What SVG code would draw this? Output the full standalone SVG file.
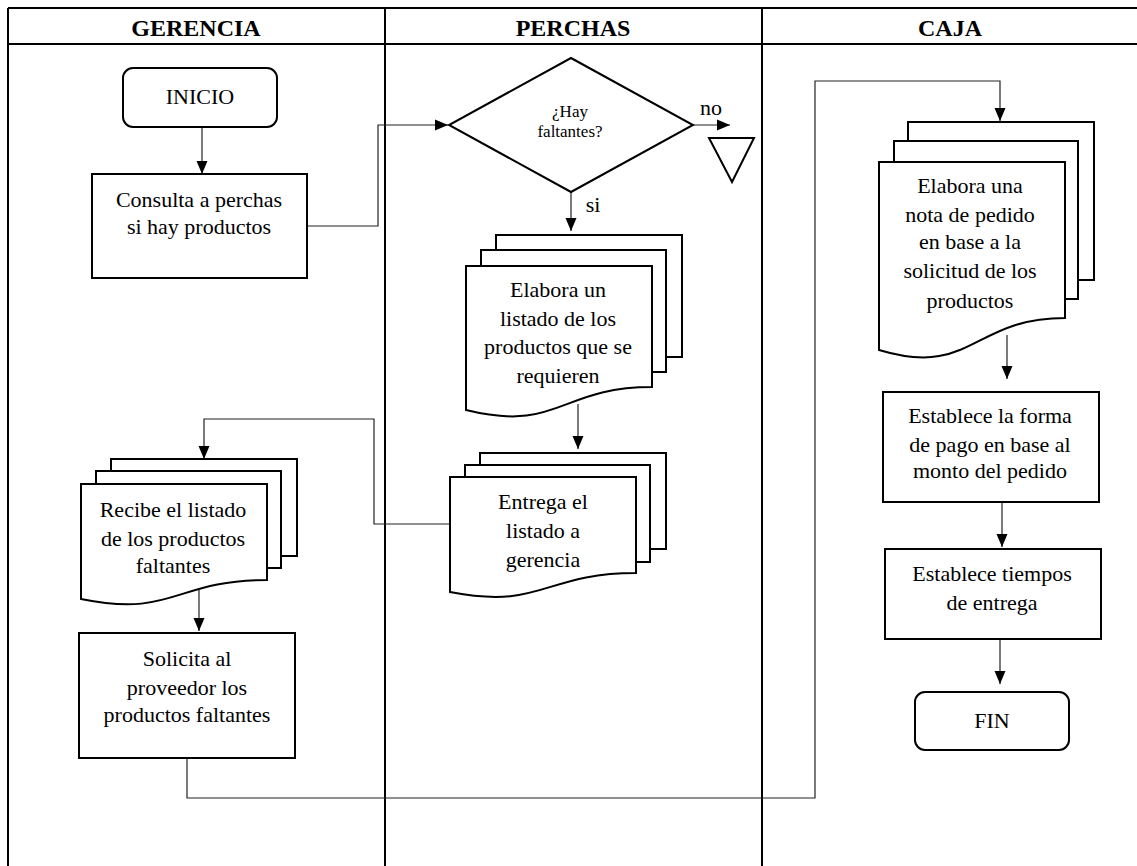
<svg xmlns="http://www.w3.org/2000/svg" width="1137" height="866" viewBox="0 0 1137 866">
<style>
.frame{stroke:#000;stroke-width:2;fill:none}
.shape{stroke:#000;stroke-width:2;fill:#fff}
.conn{stroke:#222;stroke-width:1.2;fill:none}
.t{font-family:"Liberation Serif","Times New Roman",serif;font-size:22px;fill:#000;text-anchor:middle}
.h{font-family:"Liberation Serif","Times New Roman",serif;font-size:24px;font-weight:bold;fill:#000;text-anchor:middle}
.s{font-family:"Liberation Serif","Times New Roman",serif;font-size:17px;fill:#000;text-anchor:middle}
</style>
<defs>
<marker id="arr" markerUnits="userSpaceOnUse" markerWidth="14" markerHeight="14" viewBox="0 0 14 14" refX="13" refY="7" orient="auto">
<path d="M0,1.5 L13,7 L0,12.5 Z" fill="#000"/>
</marker>
</defs>
<rect width="1137" height="866" fill="#fff"/>
<g id="lanes">
<line class="frame" x1="8" y1="8" x2="1137" y2="8"/>
<line class="frame" x1="8" y1="44" x2="1137" y2="44"/>
<line class="frame" x1="8" y1="8" x2="8" y2="866"/>
<line class="frame" x1="385" y1="8" x2="385" y2="866"/>
<line class="frame" x1="762" y1="8" x2="762" y2="866"/>
<text class="h" x="196" y="36">GERENCIA</text>
<text class="h" x="573" y="36">PERCHAS</text>
<text class="h" x="950" y="36">CAJA</text>
</g>
<g id="connectors">
<line class="conn" x1="202" y1="127" x2="202" y2="174" marker-end="url(#arr)"/>
<polyline class="conn" points="307,226 378,226 378,125 448,125" marker-end="url(#arr)"/>
<line class="conn" x1="693" y1="125" x2="730" y2="125" marker-end="url(#arr)"/>
<line class="conn" x1="571" y1="192" x2="571" y2="231" marker-end="url(#arr)"/>
<line class="conn" x1="578" y1="404" x2="578" y2="449" marker-end="url(#arr)"/>
<polyline class="conn" points="450,524 374,524 374,419 204,419 204,459" marker-end="url(#arr)"/>
<line class="conn" x1="199" y1="590" x2="199" y2="631" marker-end="url(#arr)"/>
<polyline class="conn" points="187,758 187,798 815,798 815,81 1000,81 1000,121" marker-end="url(#arr)"/>
<line class="conn" x1="1007" y1="335" x2="1007" y2="379" marker-end="url(#arr)"/>
<line class="conn" x1="1002" y1="502" x2="1002" y2="547" marker-end="url(#arr)"/>
<line class="conn" x1="1000" y1="639" x2="1000" y2="684" marker-end="url(#arr)"/>
<text class="t" x="711" y="115">no</text>
<text class="t" x="593" y="212">si</text>
</g>
<g id="inicio">
<rect class="shape" x="123" y="68" width="154" height="59" rx="10"/>
<text class="t" x="200" y="104">INICIO</text>
</g>
<g id="consulta">
<rect class="shape" x="92" y="174" width="215" height="104"/>
<text class="t" x="199" y="207">Consulta  a perchas</text>
<text class="t" x="199" y="234">si hay productos</text>
</g>
<g id="decision">
<polygon class="shape" points="571,58 693,125 571,192 449,125"/>
<text class="s" x="570" y="117">¿Hay</text>
<text class="s" x="570" y="137">faltantes?</text>
</g>
<g id="fin-no">
<polygon class="shape" points="709,138 754,138 732,182"/>
</g>
<g id="elabora-listado">
<rect class="shape" x="496" y="235" width="186" height="122"/>
<rect class="shape" x="481" y="250" width="185" height="122"/>
<path class="shape" d="M466,266 L652,266 L652,387 C559,387 559,433 466,410 Z"/>
<text class="t" x="558" y="297">Elabora un</text>
<text class="t" x="558" y="326">listado  de los</text>
<text class="t" x="558" y="354">productos  que se</text>
<text class="t" x="558" y="383">requieren</text>
</g>
<g id="entrega">
<rect class="shape" x="480" y="453" width="186" height="96"/>
<rect class="shape" x="465" y="465" width="185" height="97"/>
<path class="shape" d="M450,477 L636,477 L636,573 C543,573 543,610 450,592 Z"/>
<text class="t" x="543" y="509">Entrega el</text>
<text class="t" x="543" y="538">listado  a</text>
<text class="t" x="543" y="567">gerencia</text>
</g>
<g id="recibe">
<rect class="shape" x="111" y="459" width="186" height="97"/>
<rect class="shape" x="96" y="471" width="185" height="97"/>
<path class="shape" d="M81,484 L267,484 L267,580 C174,580 174,618 81,599 Z"/>
<text class="t" x="173" y="517">Recibe el listado</text>
<text class="t" x="173" y="546">de los productos</text>
<text class="t" x="173" y="573">faltantes</text>
</g>
<g id="solicita">
<rect class="shape" x="79" y="633" width="216" height="125"/>
<text class="t" x="187" y="666">Solicita  al</text>
<text class="t" x="187" y="695">proveedor los</text>
<text class="t" x="187" y="722">productos  faltantes</text>
</g>
<g id="nota-pedido">
<rect class="shape" x="908" y="122" width="186" height="158"/>
<rect class="shape" x="894" y="141" width="184" height="158"/>
<path class="shape" d="M879,162 L1065,162 L1065,318 C972,318 972,378 879,350 Z"/>
<text class="t" x="970" y="193">Elabora una</text>
<text class="t" x="970" y="222">nota de pedido</text>
<text class="t" x="970" y="249">en base a la</text>
<text class="t" x="970" y="278">solicitud  de los</text>
<text class="t" x="970" y="308">productos</text>
</g>
<g id="forma-pago">
<rect class="shape" x="883" y="392" width="216" height="110"/>
<text class="t" x="990" y="423">Establece la forma</text>
<text class="t" x="990" y="452">de pago en base al</text>
<text class="t" x="990" y="478">monto del pedido</text>
</g>
<g id="tiempos">
<rect class="shape" x="885" y="549" width="216" height="90"/>
<text class="t" x="992" y="581">Establece tiempos</text>
<text class="t" x="992" y="610">de entrega</text>
</g>
<g id="fin">
<rect class="shape" x="915" y="692" width="154" height="58" rx="10"/>
<text class="t" x="992" y="728">FIN</text>
</g>
</svg>
